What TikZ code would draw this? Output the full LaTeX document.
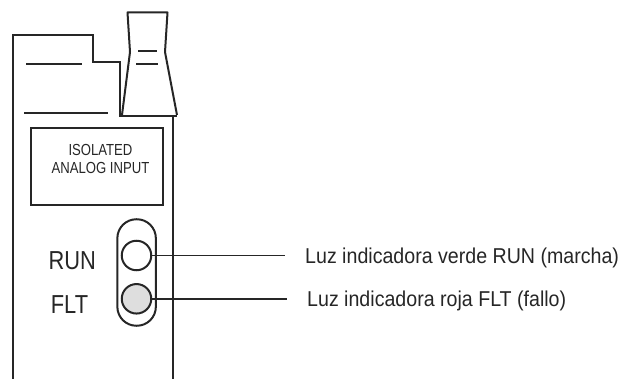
\documentclass[tikz,border=0pt]{standalone}
\usepackage{fontspec}
\setmainfont{Liberation Sans}
\newfontfamily\condA[FakeStretch=0.912]{Liberation Sans}
\newfontfamily\condB[FakeStretch=0.82]{Liberation Sans}
\newfontfamily\condC[FakeStretch=0.84]{Liberation Sans}
\tikzset{
  ln/.style={draw=black!85,line width=2pt,line join=miter},
  thin ln/.style={draw=black!85,line width=1.8pt},
  lbl/.style={inner sep=0pt,anchor=base,text=black!85},
}
\begin{document}
\begin{tikzpicture}[x=1pt,y=-1pt]
\useasboundingbox (0,0) rectangle (623,379);
\draw[ln] (12.5,379) -- (12.5,35.5) -- (92.5,35.5) -- (92.5,62) -- (120,62) -- (120,116);
\draw[ln] (173,116) -- (173,379);
\draw[ln,line width=2.6pt] (119,116) -- (177,116);
\draw[ln,line join=round] (122,115) -- (130,52) -- (127.5,12.5) -- (167.5,12.5) -- (165,52) -- (177,115);
\draw[thin ln] (138,51) -- (157,51);
\draw[thin ln] (136,64) -- (158,64);
\draw[thin ln] (26,64) -- (81.5,64);
\draw[thin ln] (24,113) -- (107.5,113);
\node[draw=black!85,line width=2pt,minimum width=132pt,minimum height=77pt,inner sep=0pt] (box) at (97,166.5) {};
\node[inner sep=0pt,align=center,text=black!85,font=\condB\fontsize{16pt}{18pt}\selectfont] (boxl) at (100.5,158.5) {ISOLATED\\ANALOG INPUT};
\node[draw=black!85,line width=2pt,rounded corners=19pt,minimum width=38.5pt,minimum height=106.5pt,inner sep=0pt] (pill) at (136.6,272.5) {};
\node[circle,draw=black!85,line width=2pt,minimum size=29.5pt,inner sep=0pt] (run) at (136.5,255.5) {};
\node[circle,draw=black!85,line width=2pt,fill=black!13,minimum size=29.5pt,inner sep=0pt] (flt) at (136.5,298.8) {};
\node[lbl,font=\condC\fontsize{26pt}{28pt}\selectfont] (runl) at (72.3,269) {RUN};
\node[lbl,font=\condC\fontsize{26pt}{28pt}\selectfont] (fltl) at (69.5,313.5) {FLT};
\node[lbl,anchor=base west,font=\condA\fontsize{21.5pt}{24pt}\selectfont] (t1) at (305,263) {Luz indicadora verde RUN (marcha)};
\node[lbl,anchor=base west,font=\condA\fontsize{21.5pt}{24pt}\selectfont] (t2) at (307,306) {Luz indicadora roja FLT (fallo)};
\coordinate (e1) at (285,255.5);
\coordinate (e2) at (287,298.8);
\draw[thin ln] (run.east) -- (e1);
\draw[thin ln] (flt.east) -- (e2);
\end{tikzpicture}
\end{document}
